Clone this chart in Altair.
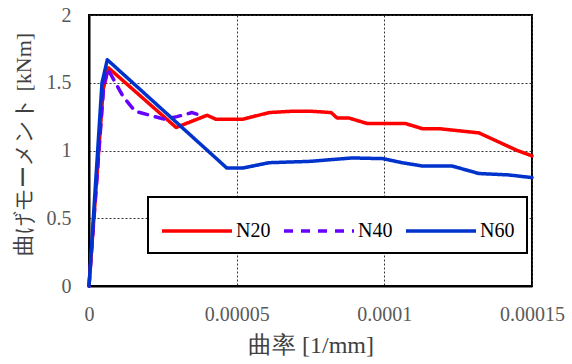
import altair as alt
import pandas as pd

# Moment-curvature curves for the three specimens
series = ["N20", "N40", "N60"]

n20_x = [0, 4.8e-6, 6.6e-6, 2.95e-5, 4.0e-5, 4.3e-5, 5.2e-5, 6.1e-5, 6.9e-5, 7.5e-5,
         8.2e-5, 8.4e-5, 8.8e-5, 9.4e-5, 1.07e-4, 1.13e-4, 1.19e-4, 1.32e-4, 1.45e-4, 1.5e-4]
n20_y = [0, 1.45, 1.61, 1.17, 1.26, 1.23, 1.23, 1.28, 1.29, 1.29,
         1.28, 1.24, 1.24, 1.20, 1.20, 1.16, 1.16, 1.13, 1.00, 0.96]

n40_x = [0, 5.0e-6, 6.4e-6, 1.15e-5, 1.56e-5, 2.06e-5, 2.57e-5, 2.98e-5, 3.49e-5, 3.76e-5]
n40_y = [0, 1.48, 1.60, 1.40, 1.29, 1.26, 1.23, 1.25, 1.28, 1.26]

n60_x = [0, 4.4e-6, 6.2e-6, 4.67e-5, 5.2e-5, 6.1e-5, 7.5e-5, 8.9e-5, 9.95e-5, 1.06e-4,
         1.13e-4, 1.23e-4, 1.32e-4, 1.42e-4, 1.5e-4]
n60_y = [0, 1.50, 1.67, 0.87, 0.87, 0.91, 0.92, 0.945, 0.94, 0.91,
         0.885, 0.885, 0.83, 0.82, 0.80]

x_ticks = [0, 0.00005, 0.0001, 0.00015]
y_ticks = [0, 0.5, 1, 1.5, 2]

colors = ["#FF0000", "#6600FF", "#0033CC"]
dashes = [[1, 0], [9, 8], [1, 0]]

rows = []
for name, xs, ys in zip(series, [n20_x, n40_x, n60_x], [n20_y, n40_y, n60_y]):
    for i, (xv, yv) in enumerate(zip(xs, ys)):
        rows.append({"series": name, "curv": xv, "moment": yv, "idx": i})
df = pd.DataFrame(rows)

serif = "Liberation Serif"

chart = alt.Chart(df).mark_line(strokeWidth=3.5, strokeCap="round", strokeJoin="round").encode(
    x=alt.X("curv:Q",
            scale=alt.Scale(domain=[0, 0.00015], nice=False, zero=False),
            axis=alt.Axis(values=x_ticks, labelExpr="'' + datum.value", labelFlush=False,
                          title="曲率 [1/mm]", titleFontSize=24,
                          labelPadding=18, titlePadding=9)),
    y=alt.Y("moment:Q",
            scale=alt.Scale(domain=[0, 2], nice=False),
            axis=alt.Axis(values=y_ticks, labelExpr="'' + datum.value", labelFlush=False,
                          title="曲げモーメント [kNm]", titleFontSize=22, titleY=129,
                          labelPadding=18, titlePadding=11)),
    color=alt.Color("series:N", scale=alt.Scale(domain=series, range=colors), title=None),
    strokeDash=alt.StrokeDash("series:N", scale=alt.Scale(domain=series, range=dashes), title=None),
    order="idx:Q",
).properties(
    width=443,
    height=271,
    autosize=alt.AutoSizeParams(type="none"),
    padding={"left": 89, "top": 15, "right": 40, "bottom": 78},
).configure_view(
    stroke="black", strokeWidth=2
).configure_axis(
    domainColor="black", domainWidth=2,
    ticks=False,
    grid=True, gridColor="#333333", gridDash=[2, 2], gridWidth=1,
    labelFont=serif, labelFontSize=20, labelColor="#595959",
    titleFont=serif, titleColor="#404040", titleFontWeight="normal",
).configure_legend(
    orient="none", legendX=59, legendY=182, direction="horizontal",
    strokeColor="black", strokeWidth=2, fillColor="white", padding=12,
    # wide flat line glyph: unit path scaled by sqrt(size)/2 = 20px
    symbolType="M-1,0H2.5", symbolSize=1600, symbolStrokeWidth=3.5,
    labelFont=serif, labelFontSize=20, labelColor="black",
    columnPadding=6, symbolOffset=0, labelOffset=32,
)

chart.save("out.html", embed_options={"renderer": "svg", "actions": False})
